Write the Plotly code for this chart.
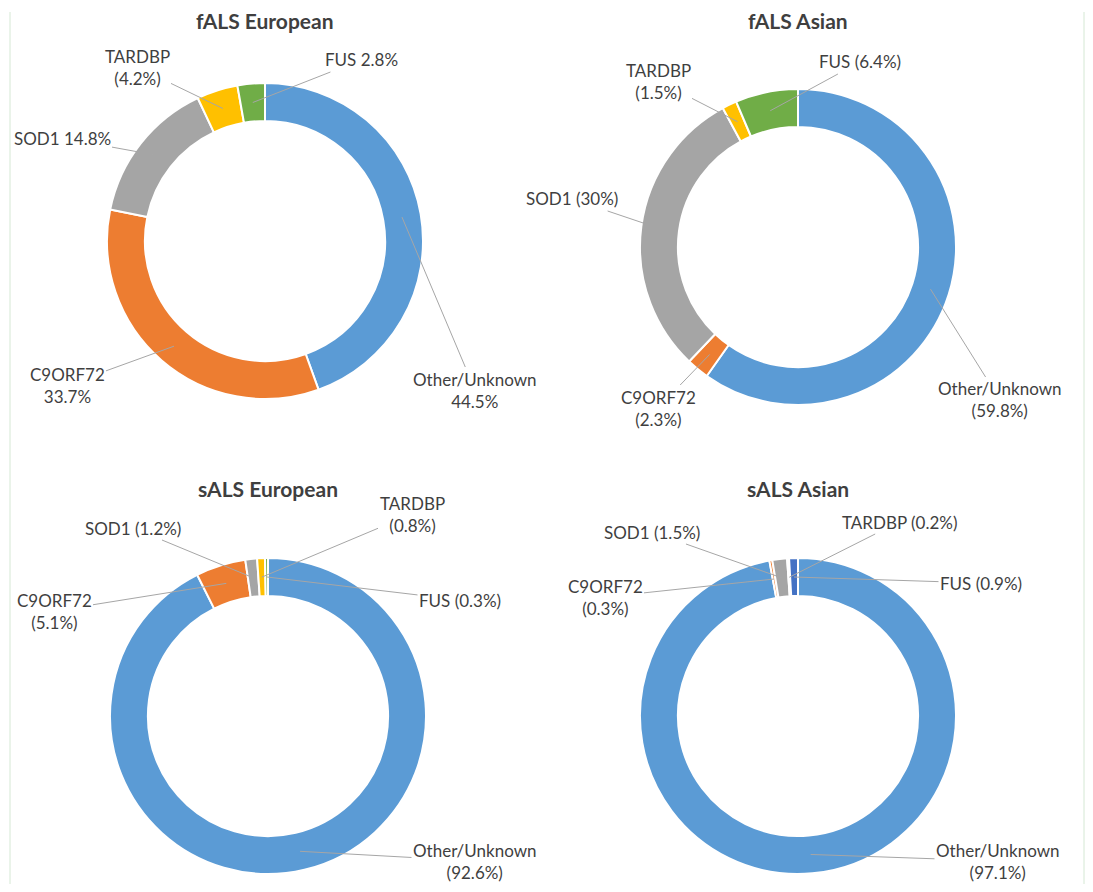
import math
import plotly.graph_objects as go

# ---------------- data ----------------
genes = ["Other/Unknown", "C9ORF72", "SOD1", "TARDBP", "FUS"]
chart_titles = ["fALS European", "fALS Asian", "sALS European", "sALS Asian"]
fals_european = [44.5, 33.7, 14.8, 4.2, 2.8]
fals_asian = [59.8, 2.3, 30, 1.5, 6.4]
sals_european = [92.6, 5.1, 1.2, 0.8, 0.3]
sals_asian = [97.1, 0.3, 1.5, 0.2, 0.9]

# label text templates (per chart, per gene)
fmt_fals_eu = ["{n}<br>{v}%", "{n}<br>{v}%", "{n} {v}%", "{n}<br>({v}%)", "{n} {v}%"]
fmt_fals_as = ["{n}<br>({v}%)", "{n}<br>({v}%)", "{n} ({v}%)", "{n}<br>({v}%)", "{n} ({v}%)"]
fmt_sals_eu = ["{n}<br>({v}%)", "{n}<br>({v}%)", "{n} ({v}%)", "{n}<br>({v}%)", "{n} ({v}%)"]
fmt_sals_as = ["{n}<br>({v}%)", "{n}<br>({v}%)", "{n} ({v}%)", "{n} ({v}%)", "{n} ({v}%)"]

# ---------------- style / layout ----------------
PAGE_W, PAGE_H = 1093, 892
OFF = 8                      # default body margin of the html page
W, H = PAGE_W - 2 * OFF, PAGE_H - 2 * OFF
R = 158
HOLE = 0.76
colors_std = ["#5B9BD5", "#ED7D31", "#A5A5A5", "#FFC000", "#70AD47"]
colors_sals_as = ["#5B9BD5", "#ED7D31", "#A5A5A5", "#FFC000", "#4472C4"]
TXT = "#3F3F3F"
FONT = "Lato"


def fx(sx):
    return (sx - OFF) / W


def fy(sy):
    return 1 - (sy - OFF) / H


charts = [
    dict(vals=fals_european, fmt=fmt_fals_eu, colors=colors_std, c=(265, 241), ty=20,
         lab=[(475, 390), (67, 385), (62, 138), (137, 67), (361, 60)]),
    dict(vals=fals_asian, fmt=fmt_fals_as, colors=colors_std, c=(798, 247), ty=20,
         lab=[(1000, 400), (658, 408), (572, 199), (658, 81), (860, 62)]),
    dict(vals=sals_european, fmt=fmt_sals_eu, colors=colors_std, c=(268, 716), ty=488,
         lab=[(475, 861), (54, 611), (133, 528), (412, 514), (460, 600)]),
    dict(vals=sals_asian, fmt=fmt_sals_as, colors=colors_sals_as, c=(798, 716), ty=488,
         lab=[(998, 861), (605, 597), (652, 532), (899, 522), (981, 583)]),
]

fig = go.Figure()
annotations = []
for title, ch in zip(chart_titles, charts):
    cx, cy = ch["c"]
    fig.add_trace(go.Pie(
        labels=genes, values=ch["vals"], hole=HOLE, sort=False,
        direction="clockwise", rotation=0, textinfo="none",
        marker=dict(colors=ch["colors"], line=dict(color="white", width=2)),
        domain=dict(x=[fx(cx - R), fx(cx + R)], y=[fy(cy + R), fy(cy - R)]),
        showlegend=False, hoverinfo="label+value",
    ))
    annotations.append(dict(
        x=fx(cx), y=fy(ch["ty"]), xref="paper", yref="paper", showarrow=False,
        xanchor="center", yanchor="middle",
        text="<b>" + title + "</b>", font=dict(family=FONT, size=21, color=TXT),
    ))
    total = sum(ch["vals"])
    cum = 0.0
    rmid = R * (1 + HOLE) / 2
    for g, v, f, (lx, ly) in zip(genes, ch["vals"], ch["fmt"], ch["lab"]):
        ang = 2 * math.pi * (cum + v / 2) / total
        cum += v
        px = cx + rmid * math.sin(ang)
        py = cy - rmid * math.cos(ang)
        annotations.append(dict(
            x=fx(px), y=fy(py), xref="paper", yref="paper",
            ax=lx - px, ay=ly - py, showarrow=True, arrowhead=0, arrowwidth=1,
            arrowcolor="#A6A6A6", standoff=0,
            text=f.format(n=g, v=f"{v:g}"),
            font=dict(family=FONT, size=17, color=TXT),
        ))

fig.update_layout(
    width=W, height=H, margin=dict(l=0, r=0, t=0, b=0),
    paper_bgcolor="white", plot_bgcolor="white",
    annotations=annotations,
    shapes=[
        dict(type="line", xref="paper", yref="paper", x0=fx(10), x1=fx(10), y0=0, y1=fy(12),
             line=dict(color="#D5E8D4", width=1)),
        dict(type="line", xref="paper", yref="paper", x0=fx(1084), x1=fx(1084), y0=0, y1=fy(12),
             line=dict(color="#D5E8D4", width=1)),
    ],
)

fig.write_html("out.html")
